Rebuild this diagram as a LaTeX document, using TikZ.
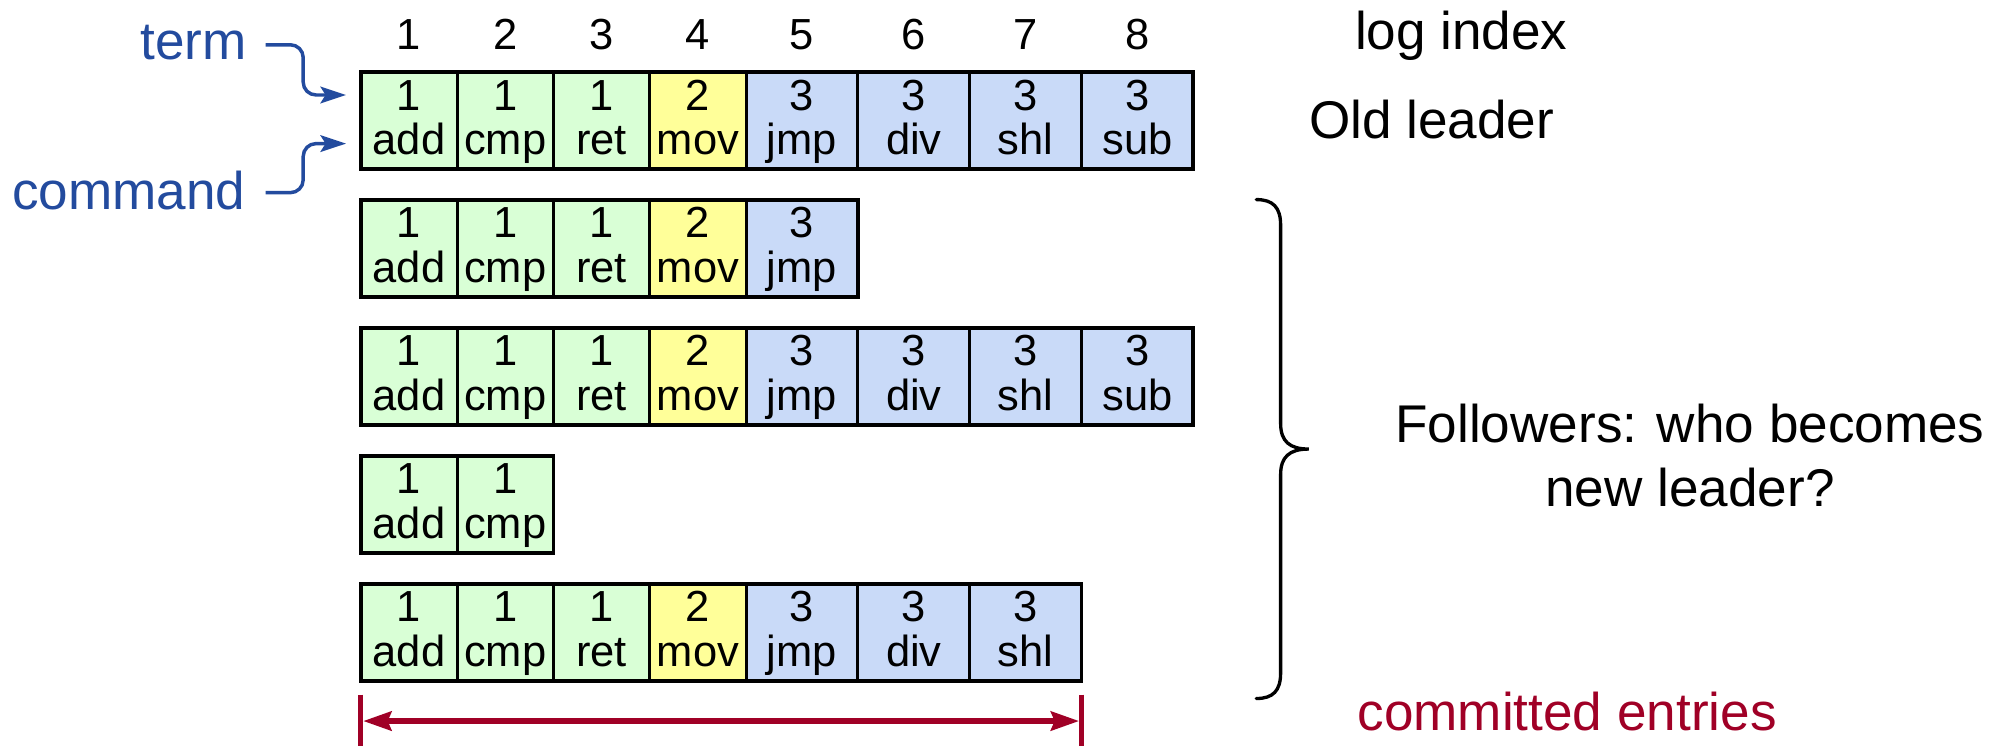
\documentclass[tikz,border=0pt]{standalone}
\usepackage{fontspec}
\setmainfont{Liberation Sans}
\usetikzlibrary{arrows.meta,calc}

\definecolor{cellgreen}{RGB}{217,255,214}
\definecolor{cellyellow}{RGB}{255,255,153}
\definecolor{cellblue}{RGB}{201,218,248}
\definecolor{noteblue}{RGB}{35,75,158}
\definecolor{commitred}{RGB}{160,0,38}

\begin{document}
\begin{tikzpicture}[x=1pt,y=-1pt,
  cell/.style={draw=black, line width=2.3pt, minimum height=75.5pt,
               inner sep=0pt, outer sep=0pt, anchor=north west},
  celltext/.style={font=\fontsize{34}{35}\selectfont, inner sep=0pt, anchor=base},
  lbl/.style={font=\fontsize{41.5}{50}\selectfont, inner sep=0pt},
  logframe/.style={draw=black, line width=3pt},
  notearrow/.style={draw=noteblue, line width=2.7pt, rounded corners=10pt,
                    -{Stealth[length=20pt,width=13pt,inset=4pt]}},
  redline/.style={draw=commitred, line width=4pt},
  redarrow/.style={redline, {Stealth[length=22pt,width=15pt,inset=3pt]}-{Stealth[length=22pt,width=15pt,inset=3pt]},
                   shorten <=2pt, shorten >=2pt},
  bracestyle/.style={draw=black, line width=2.6pt, line cap=round}
]
\useasboundingbox (0,0) rectangle (1568,583);

% five logs: row / number of entries
\foreach \r/\n in {1/8,2/5,3/8,4/2,5/7} {
  \foreach \k/\tm/\cm/\x/\w/\col in {
      1/1/add/282/75.3/cellgreen,
      2/1/cmp/357.3/75.3/cellgreen,
      3/1/ret/432.6/75.3/cellgreen,
      4/2/mov/507.9/75.3/cellyellow,
      5/3/jmp/583.2/87.4/cellblue,
      6/3/div/670.6/87.4/cellblue,
      7/3/shl/758/87.4/cellblue,
      8/3/sub/845.4/87.4/cellblue} {
    \ifnum\k>\n\relax\else
      \node[cell, fill=\col, minimum width=\w pt] (r\r-\k) at (\x, {56.5+100*(\r-1)}) {};
      \node[celltext] (r\r-\k-t) at ($(r\r-\k.north)+(0,29.5)$) {\tm};
      \node[celltext] (r\r-\k-c) at ($(r\r-\k.north)+(0,64.5)$) {\cm};
    \fi
  }
  \draw[logframe] (r\r-1.north west) rectangle (r\r-\n.south east);
}

% log index numbers
\foreach \k in {1,...,8} {
  \node[celltext] (idx\k) at ($(r1-\k.north)+(0,-17.5)$) {\k};
}

\node[lbl, anchor=base west] (logindex) at (1059,39) {log index};
\node[lbl, anchor=base west] (oldleader) at (1023,108) {Old leader};

% term / command annotations
\node[lbl, text=noteblue, anchor=base east] (term) at (193,46.4) {term};
\node[lbl, text=noteblue, anchor=base east] (command) at (192,163.6) {command};
\coordinate (termtip) at ($(r1-1.west)+(-11.5,-20)$);
\coordinate (cmdtip)  at ($(r1-1.west)+(-11.5,18)$);
\draw[notearrow] ($(term.base east)+(14.6,-11.4)$) -| ($(termtip)+(-33.5,0)$) -- (termtip);
\draw[notearrow] ($(command.base east)+(15.6,-13)$) -| ($(cmdtip)+(-33.5,0)$) -- (cmdtip);

% brace around the followers
\draw[bracestyle] (982,156) .. controls (995,156) and (1001,162) .. (1001,176)
  -- (1001,331) .. controls (1001,345) and (1008,351) .. (1023,351)
  .. controls (1008,351) and (1001,357) .. (1001,371)
  -- (1001,526) .. controls (1001,540) and (995,546) .. (982,546);

\node[lbl, anchor=base] (foll1) at (1321,346) {Followers: who becomes};
\node[lbl, anchor=base] (foll2) at (1321,396) {new leader?};

% committed entries span
\coordinate (cl) at ($(r5-1.south west)+(0,11)$);
\coordinate (cr) at ($(r5-7.south east)+(0,11)$);
\draw[redline] (cl) -- ++(0,45);
\draw[redline] (cr) -- ++(0,45);
\draw[redarrow] ($(cl)+(0,20.6)$) -- ($(cr)+(0,20.6)$);
\node[lbl, text=commitred, anchor=base west] (committed) at (1061,571) {committed entries};
\end{tikzpicture}
\end{document}
